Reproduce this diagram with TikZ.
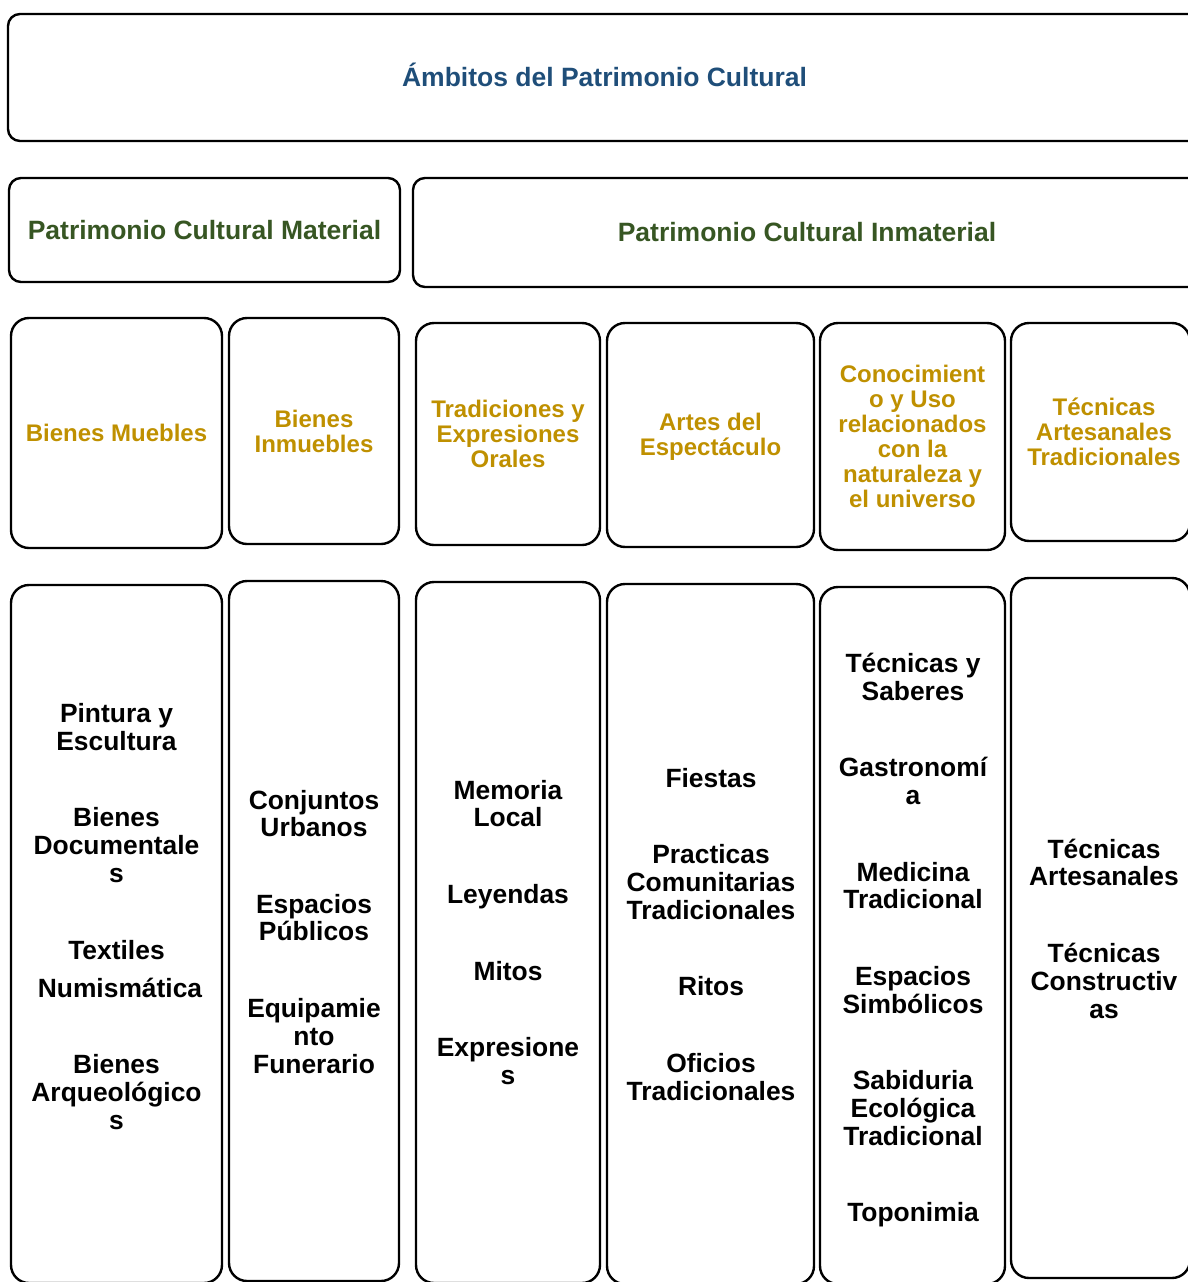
\documentclass[tikz,border=0pt]{standalone}
\usepackage{fontspec}
\setmainfont{Liberation Sans}
\definecolor{titleblue}{HTML}{1F4E79}
\definecolor{pcgreen}{HTML}{375623}
\definecolor{ambgold}{HTML}{BF9000}
\begin{document}
\begin{tikzpicture}[x=1pt, y=-1pt, line width=2.4pt,
  top/.style={draw, rounded corners=12pt, inner sep=0pt, font=\bfseries\fontsize{26.5}{28}\selectfont},
  amb/.style={draw, rounded corners=18pt, inner sep=0pt, align=center, text=ambgold, font=\bfseries\fontsize{24}{25}\selectfont},
  col/.style={draw, rounded corners=18pt, inner sep=0pt},
  item/.style={align=center, font=\bfseries\fontsize{26.4}{27.6}\selectfont}]
\useasboundingbox (0,0) rectangle (1188,1282);
\clip (0,0) rectangle (1188,1282);
% titles
\node[top, minimum width=1193pt, minimum height=127pt] (ambitos) at (604.5,77.5) {};
\node[text=titleblue, font=\bfseries\fontsize{26.5}{28}\selectfont] (ambitostxt) at (604.5,74.5) {Ámbitos del Patrimonio Cultural};
\node[top, text=pcgreen, minimum width=391pt, minimum height=104pt] (material) at (204.5,230) {Patrimonio Cultural Material};
\node[top, text=pcgreen, minimum width=788pt, minimum height=109pt] (inmaterial) at (807,232.5) {Patrimonio Cultural Inmaterial};
% ambitos
\node[amb, minimum width=211pt, minimum height=230pt] (muebles) at (116.5,433) {Bienes Muebles};
\node[amb, minimum width=170pt, minimum height=226pt] (inmuebles) at (314,431) {Bienes\\Inmuebles};
\node[amb, minimum width=184pt, minimum height=222pt] (orales) at (508,434) {Tradiciones y\\Expresiones\\Orales};
\node[amb, minimum width=207pt, minimum height=224pt] (artes) at (710.5,435) {};
\node[align=center, text=ambgold, font=\bfseries\fontsize{24}{25}\selectfont] (artestxt) at (710.5,437) {Artes del\\Espectáculo};
\node[amb, minimum width=185pt, minimum height=227pt] (naturaleza) at (912.5,436.5) {Conocimient\\o y Uso\\relacionados\\con la\\naturaleza y\\el universo};
\node[amb, minimum width=179pt, minimum height=218pt] (tecnicas) at (1100.5,432) {};
\node[align=center, text=ambgold, font=\bfseries\fontsize{24}{25}\selectfont] (tecnicastxt) at (1104,432) {Técnicas\\Artesanales\\Tradicionales};
% columnas
\node[col, minimum width=211pt, minimum height=698pt] (c1) at (116.5,934) {};
\node[col, minimum width=170pt, minimum height=700pt] (c2) at (314,931) {};
\node[col, minimum width=184pt, minimum height=701pt] (c3) at (508,932.5) {};
\node[col, minimum width=207pt, minimum height=700pt] (c4) at (710.5,934) {};
\node[col, minimum width=185pt, minimum height=697pt] (c5) at (912.5,935.5) {};
\node[col, minimum width=179pt, minimum height=700pt] (c6) at (1100.5,928) {};
% bienes muebles
\node[item] (pintura) at (116.5,727) {Pintura y\\Escultura};
\node[item] (documentales) at (116.5,845) {Bienes\\Documentale\\s};
\node[item] (textiles) at (116.5,950) {Textiles};
\node[item] (numismatica) at (120,988) {Numismática};
\node[item] (arqueologicos) at (116.5,1092) {Bienes\\Arqueológico\\s};
% bienes inmuebles
\node[item] (conjuntos) at (314,813.5) {Conjuntos\\Urbanos};
\node[item] (publicos) at (314,917.5) {Espacios\\Públicos};
\node[item] (funerario) at (314,1036) {Equipamie\\nto\\Funerario};
% tradiciones
\node[item] (memoria) at (508,803.5) {Memoria\\Local};
\node[item] (leyendas) at (508,897) {Leyendas};
\node[item] (mitos) at (508,971) {Mitos};
\node[item] (expresiones) at (508,1061) {Expresione\\s};
% artes
\node[item] (fiestas) at (711,778) {Fiestas};
\node[item] (practicas) at (711,882) {Practicas\\Comunitarias\\Tradicionales};
\node[item] (ritos) at (711,986) {Ritos};
\node[item] (oficios) at (711,1077) {Oficios\\Tradicionales};
% conocimiento
\node[item] (saberes) at (913,677) {Técnicas y\\Saberes};
\node[item] (gastronomia) at (913,781) {Gastronomí\\a};
\node[item] (medicina) at (913,885.5) {Medicina\\Tradicional};
\node[item] (simbolicos) at (913,990) {Espacios\\Simbólicos};
\node[item] (sabiduria) at (913,1108) {Sabiduria\\Ecológica\\Tradicional};
\node[item] (toponimia) at (913,1215) {Toponimia};
% tecnicas
\node[item] (artesanales) at (1104,862.5) {Técnicas\\Artesanales};
\node[item] (constructivas) at (1104,981) {Técnicas\\Constructiv\\as};
\end{tikzpicture}
\end{document}
